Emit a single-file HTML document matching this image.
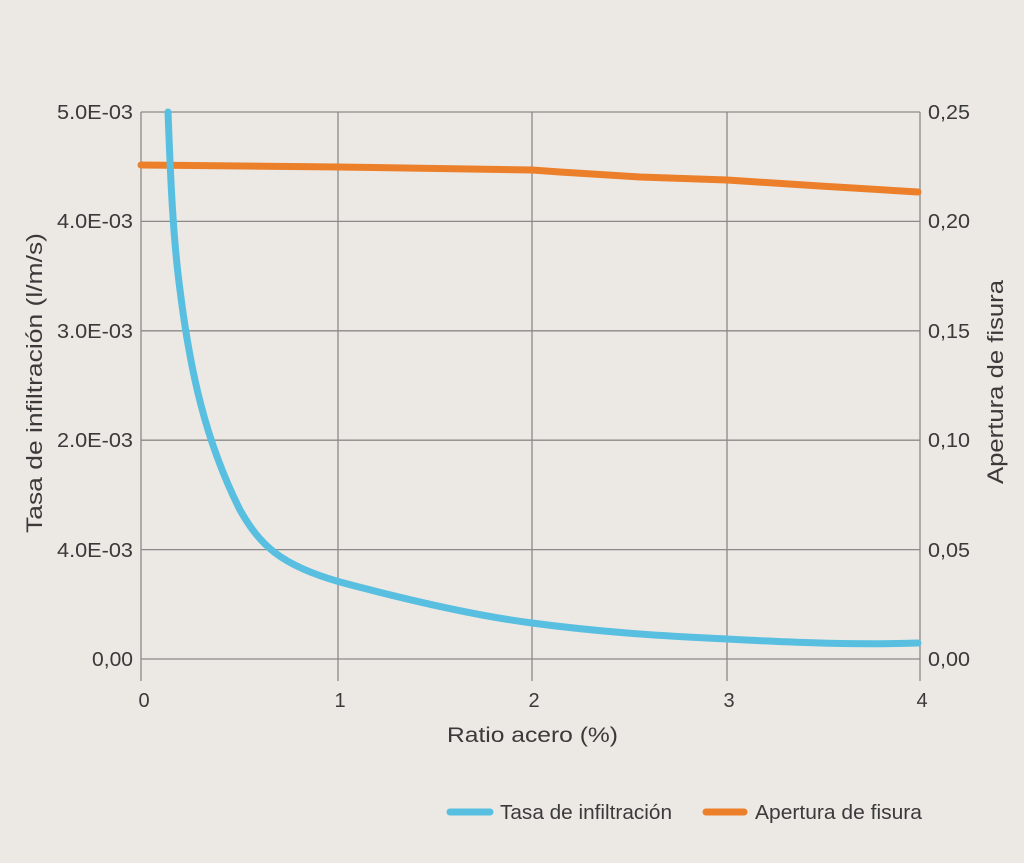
<!DOCTYPE html>
<html><head><style>
body{margin:0;background:#ece8e4;}
svg{display:block;font-family:"Liberation Sans",sans-serif;}
text{fill:#3a3a3a;font-size:20px;}
</style></head><body>
<svg width="1024" height="863" viewBox="0 0 1024 863">
<rect width="1024" height="863" fill="#ece8e4"/>
<g stroke="#8a8a8a" stroke-width="1.3" fill="none">
<line x1="141" y1="112" x2="920" y2="112"/>
<line x1="141" y1="221.4" x2="920" y2="221.4"/>
<line x1="141" y1="330.8" x2="920" y2="330.8"/>
<line x1="141" y1="440.2" x2="920" y2="440.2"/>
<line x1="141" y1="549.6" x2="920" y2="549.6"/>
<line x1="141" y1="659" x2="920" y2="659"/>
<line x1="141" y1="112" x2="141" y2="681"/>
<line x1="338" y1="112" x2="338" y2="681"/>
<line x1="532" y1="112" x2="532" y2="681"/>
<line x1="727" y1="112" x2="727" y2="681"/>
<line x1="920" y1="112" x2="920" y2="681"/>
</g>
<g>
<text x="57" y="119" textLength="76" lengthAdjust="spacingAndGlyphs">5.0E-03</text>
<text x="57" y="228" textLength="76" lengthAdjust="spacingAndGlyphs">4.0E-03</text>
<text x="57" y="338" textLength="76" lengthAdjust="spacingAndGlyphs">3.0E-03</text>
<text x="57" y="447" textLength="76" lengthAdjust="spacingAndGlyphs">2.0E-03</text>
<text x="57" y="557" textLength="76" lengthAdjust="spacingAndGlyphs">4.0E-03</text>
<text x="92" y="666" textLength="41" lengthAdjust="spacingAndGlyphs">0,00</text>
</g>
<g>
<text x="928" y="119" textLength="42" lengthAdjust="spacingAndGlyphs">0,25</text>
<text x="928" y="228" textLength="42" lengthAdjust="spacingAndGlyphs">0,20</text>
<text x="928" y="338" textLength="42" lengthAdjust="spacingAndGlyphs">0,15</text>
<text x="928" y="447" textLength="42" lengthAdjust="spacingAndGlyphs">0,10</text>
<text x="928" y="557" textLength="42" lengthAdjust="spacingAndGlyphs">0,05</text>
<text x="928" y="666" textLength="42" lengthAdjust="spacingAndGlyphs">0,00</text>
</g>
<g text-anchor="middle">
<text x="144" y="707">0</text>
<text x="340" y="707">1</text>
<text x="534" y="707">2</text>
<text x="729" y="707">3</text>
<text x="922" y="707">4</text>
</g>
<text x="447" y="742" textLength="171" lengthAdjust="spacingAndGlyphs" style="font-size:21px">Ratio acero (%)</text>
<text transform="translate(42,533) rotate(-90)" textLength="300" lengthAdjust="spacingAndGlyphs" style="font-size:22px">Tasa de infiltración (l/m/s)</text>
<text transform="translate(1003,484) rotate(-90)" textLength="204" lengthAdjust="spacingAndGlyphs" style="font-size:22px">Apertura de fisura</text>
<path d="M141,165 L338,167 L532,170 L560,172 L640,177 L727,180 L820,186 L918,192" stroke="#ec7f2a" stroke-width="7" fill="none" stroke-linecap="round"/>
<path d="M168,112 C170,160 172,230 180,290 C190,370 205,440 240,510 C260,545 280,565 340,582 C400,598 470,615 532,623 C600,632 660,636 727,639 C800,643 860,645 918,643" stroke="#58bfe0" stroke-width="7" fill="none" stroke-linecap="round"/>
<line x1="450" y1="812" x2="490" y2="812" stroke="#58bfe0" stroke-width="7" stroke-linecap="round"/>
<text x="500" y="819" textLength="172" lengthAdjust="spacingAndGlyphs">Tasa de infiltración</text>
<line x1="706" y1="812" x2="744" y2="812" stroke="#ec7f2a" stroke-width="7" stroke-linecap="round"/>
<text x="755" y="819" textLength="167" lengthAdjust="spacingAndGlyphs">Apertura de fisura</text>
</svg>
</body></html>
